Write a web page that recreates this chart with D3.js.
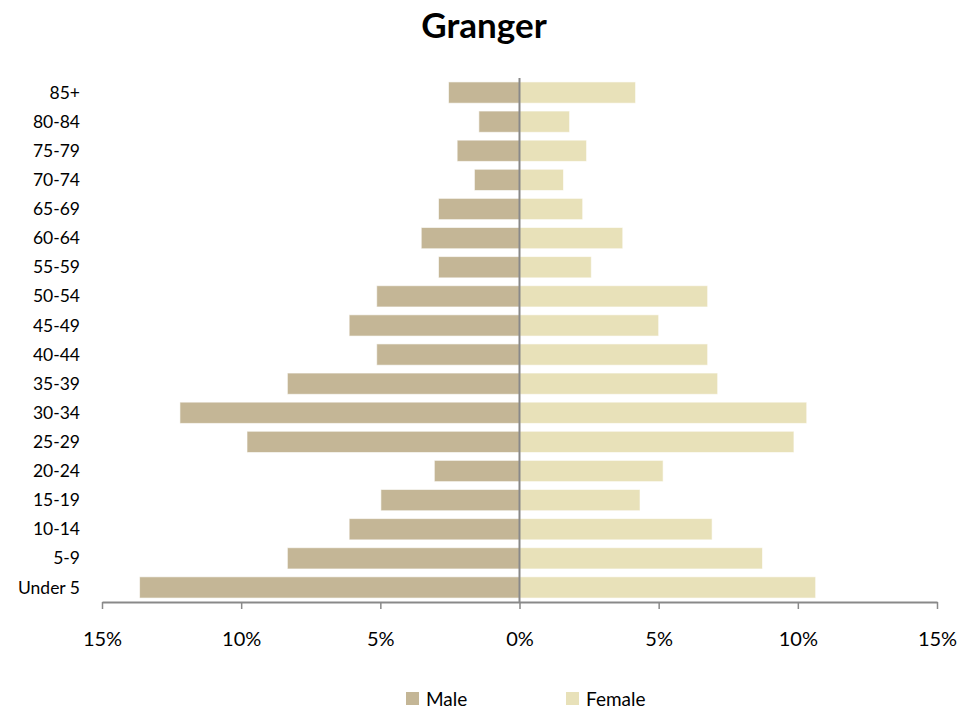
<!DOCTYPE html>
<html>
<head>
<meta charset="utf-8">
<script src="https://cdn.jsdelivr.net/npm/d3@7"></script>
<style>
  body { margin: 0; background: #fff; }
  svg text { font-family: Lato, "Noto Sans", sans-serif; fill: #000; }
</style>
</head>
<body>
<svg id="canvas"></svg>
<script>
const ageGroups = ['85+', '80-84', '75-79', '70-74', '65-69', '60-64', '55-59', '50-54', '45-49',
    '40-44', '35-39', '30-34', '25-29', '20-24', '15-19', '10-14', '5-9', 'Under 5'];

// percent of population
const maleValues = [2.55, 1.46, 2.24, 1.62, 2.91, 3.53, 2.91, 5.13, 6.12,
    5.13, 8.34, 12.2, 9.79, 3.06, 4.98, 6.12, 8.34, 13.65];
const femaleValues = [4.17, 1.80, 2.41, 1.58, 2.27, 3.71, 2.58, 6.76, 5.0,
    6.76, 7.12, 10.32, 9.86, 5.16, 4.33, 6.92, 8.73, 10.64];

const xTicks = [-15, -10, -5, 0, 5, 10, 15];
const seriesNames = ['Male', 'Female'];
const seriesColors = ['#c4b696', '#e8e1b9'];

let width = 979;
let height = 713;

let canvas = d3.select('#canvas');
canvas.attr('width', width);
canvas.attr('height', height);

let xScale = d3.scaleLinear()
    .domain([-15, 15])
    .range([102, 937]);

let yScale = d3.scaleBand()
    .domain(ageGroups)
    .range([78, 602])
    .paddingInner(0.27)
    .paddingOuter(0.135);

// title
canvas.append('text')
    .attr('x', 484)
    .attr('y', 38)
    .attr('text-anchor', 'middle')
    .style('font-size', '35px')
    .style('font-weight', 'bold')
    .text('Granger');

// male bars (to the left)
canvas.append('g')
    .selectAll('rect')
    .data(maleValues)
    .enter()
    .append('rect')
    .attr('x', d => xScale(-d))
    .attr('y', (d, i) => yScale(ageGroups[i]))
    .attr('width', d => xScale(0) - xScale(-d))
    .attr('height', yScale.bandwidth())
    .attr('fill', seriesColors[0])
    .attr('stroke', 'rgba(255,255,255,0.6)')
    .attr('stroke-width', 1);

// female bars (to the right)
canvas.append('g')
    .selectAll('rect')
    .data(femaleValues)
    .enter()
    .append('rect')
    .attr('x', xScale(0))
    .attr('y', (d, i) => yScale(ageGroups[i]))
    .attr('width', d => xScale(d) - xScale(0))
    .attr('height', yScale.bandwidth())
    .attr('fill', seriesColors[1])
    .attr('stroke', 'rgba(255,255,255,0.6)')
    .attr('stroke-width', 1);

// center line
canvas.append('line')
    .attr('x1', xScale(0))
    .attr('x2', xScale(0))
    .attr('y1', 78)
    .attr('y2', 602)
    .attr('stroke', '#898989')
    .attr('stroke-width', 2);

// category labels
canvas.append('g')
    .selectAll('text')
    .data(ageGroups)
    .enter()
    .append('text')
    .attr('x', 80)
    .attr('y', d => yScale(d) + yScale.bandwidth() / 2)
    .attr('dy', '0.35em')
    .attr('text-anchor', 'end')
    .style('font-size', '17.5px')
    .text(d => d);

// x axis
let xAxis = d3.axisBottom(xScale)
    .tickValues(xTicks)
    .tickSize(7)
    .tickSizeOuter(0)
    .tickPadding(23)
    .tickFormat(d => Math.abs(d) + '%');

let axisG = canvas.append('g')
    .attr('transform', 'translate(0,602)')
    .call(xAxis);

axisG.select('.domain')
    .attr('stroke', '#898989')
    .attr('stroke-width', 2);
axisG.selectAll('.tick line')
    .attr('stroke', '#898989')
    .attr('stroke-width', 1.5);
axisG.selectAll('.tick text')
    .style('font-size', '20px')
    .style('font-family', 'Lato, "Noto Sans", sans-serif')
    .attr('fill', '#000');

// legend
const legendX = [406, 566];
let legend = canvas.append('g');
seriesNames.forEach((name, i) => {
    legend.append('rect')
        .attr('x', legendX[i])
        .attr('y', 692)
        .attr('width', 13)
        .attr('height', 13)
        .attr('fill', seriesColors[i]);
    legend.append('text')
        .attr('x', legendX[i] + 20)
        .attr('y', 699)
        .attr('dy', '0.35em')
        .style('font-size', '19px')
        .text(name);
});
</script>
</body>
</html>
